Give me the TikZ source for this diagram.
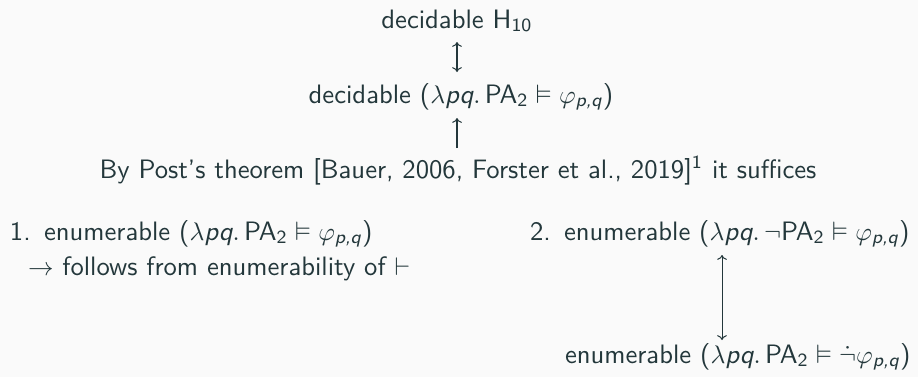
\documentclass[tikz,border=0pt]{standalone}
\usepackage{amsmath,amssymb}
\renewcommand{\familydefault}{\sfdefault}
\usetikzlibrary{arrows.meta}
\definecolor{fg}{RGB}{35,55,59}
\definecolor{bg}{RGB}{250,250,250}
\newcommand\sfi[1]{\textsf{\itshape #1}}
\newcommand\sfu[1]{\textsf{\upshape #1}}
\begin{document}
\begin{tikzpicture}[x=0.3922pt,y=-0.3922pt,
  every node/.style={inner sep=0pt, outer sep=0pt, text=fg, font=\sffamily\fontsize{10.45}{12.5}\selectfont},
  conn/.style={draw=fg, line width=0.4pt},
  >={To[length=1.9pt,width=3.8pt]}]
\fill[bg] (0,0) rectangle (918,377);
\useasboundingbox (0,0) rectangle (918,377);

\node[anchor=base] (top) at (457,28) {decidable $\sfu{H}_{\sfu{10}}$};
\node[anchor=base] (mid) at (461,103) {decidable ($\lambda\sfi{pq}.\,\sfu{PA}_{\sfu{2}}\vDash\varphi_{\sfi{p,q}}$)};
\node[anchor=base] (post) at (458,178) {By Post's theorem [Bauer, 2006, Forster et al., 2019]\textsuperscript{1} it suffices};
\node[anchor=base west] (one) at (10,240) {1.\enspace enumerable ($\lambda\sfi{pq}.\,\sfu{PA}_{\sfu{2}}\vDash\varphi_{\sfi{p,q}}$)};
\node[anchor=base west] (fol) at (28,275) {$\rightarrow$ follows from enumerability of $\vdash$};
\node[anchor=base west] (two) at (530,240) {2.\enspace enumerable ($\lambda\sfi{pq}.\,\neg\sfu{PA}_{\sfu{2}}\vDash\varphi_{\sfi{p,q}}$)};
\node[anchor=base west] (three) at (565,363) {enumerable ($\lambda\sfi{pq}.\,\sfu{PA}_{\sfu{2}}\vDash\dot{\neg}\varphi_{\sfi{p,q}}$)};

\coordinate (a1) at (457,42);
\coordinate (a2) at (457,72);
\draw[conn,<->] (a1) -- (a2);
\coordinate (b1) at (457,148);
\coordinate (b2) at (457,118);
\draw[conn,->] (b1) -- (b2);
\coordinate (c1) at (722,255);
\coordinate (c2) at (722,340);
\draw[conn,<->] (c1) -- (c2);
\end{tikzpicture}
\end{document}
